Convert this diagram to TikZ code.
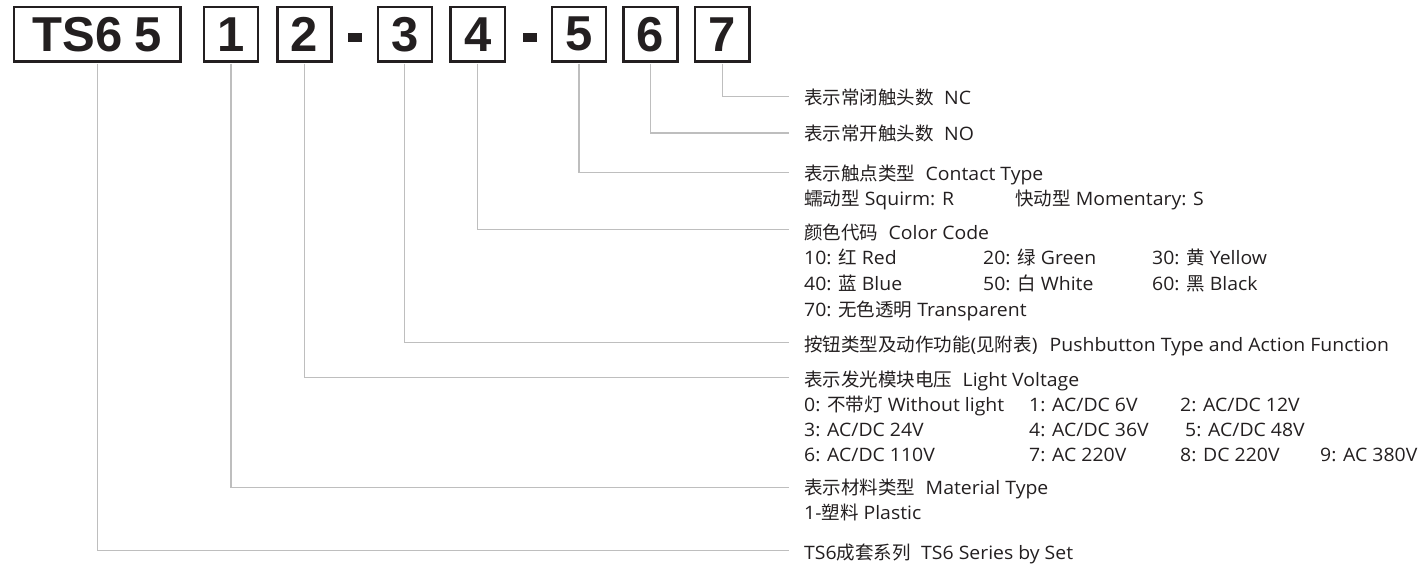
\documentclass[tikz,border=0pt]{standalone}
\usepackage{fontspec}
\setmainfont{Open Sans}[FakeStretch=1.05]
\newfontfamily\cjk{Noto Sans CJK SC}
\newfontfamily\boxfont{Liberation Sans}
\definecolor{ink}{HTML}{231F20}
\definecolor{linegray}{HTML}{BEBEBE}
\tikzset{
  codebox/.style={draw=ink, line width=2.3pt, minimum height=54.2pt, minimum width=54.2pt,
    inner sep=0pt, text=ink, font=\boxfont\bfseries\fontsize{49}{49}\selectfont},
  dashbar/.style={fill=ink, draw=none, minimum width=14pt, minimum height=8.5pt, inner sep=0pt},
  conn/.style={draw=linegray, line width=1.2pt, shorten <=1.15pt},
  desc/.style={anchor=base west, inner sep=0pt, text=ink, font=\fontsize{18.5}{22}\selectfont},
}
\newcommand{\gapH}{\hspace{10.5pt}}
\begin{document}
\begin{tikzpicture}[x=1pt,y=-1pt]
\useasboundingbox (0,0) rectangle (1421,568);
% code boxes
\node[codebox, minimum width=166.8pt] (b0) at (97.2,34.25) {TS6\kern0.25em5\hspace{16pt}};
\node[codebox] (b1) at (231,34.25) {1};
\node[codebox] (b2) at (304.5,34.25) {2};
\node[dashbar] (d1) at (355,37.5) {};
\node[codebox] (b3) at (404.8,34.25) {3};
\node[codebox] (b4) at (477.7,34.25) {4};
\node[dashbar] (d2) at (529.5,37.5) {};
\node[codebox] (b5) at (579,34.25) {5};
\node[codebox] (b6) at (650.5,34.25) {6};
\node[codebox] (b7) at (722.3,34.25) {7};
% descriptions
\node[desc] (t7) at (804,104.5) {{\cjk 表示常闭触头数}\gapH NC};
\node[desc] (t6) at (804,140.5) {{\cjk 表示常开触头数}\gapH NO};
\node[desc] (t5) at (804,180.3) {{\cjk 表示触点类型}\gapH Contact Type};
\node[desc] (t5a) at (804,205.6) {{\cjk 蠕动型} Squirm: R};
\node[desc] (t5b) at (1015,205.6) {{\cjk 快动型} Momentary: S};
\node[desc] (t4) at (804,239) {{\cjk 颜色代码}\gapH Color Code};
\node[desc] (t4a) at (804,264.5) {10: {\cjk 红} Red};
\node[desc] (t4b) at (983,264.5) {20: {\cjk 绿} Green};
\node[desc] (t4c) at (1152,264.5) {30: {\cjk 黄} Yellow};
\node[desc] (t4d) at (804,290.3) {40: {\cjk 蓝} Blue};
\node[desc] (t4e) at (983,290.3) {50: {\cjk 白} White};
\node[desc] (t4f) at (1152,290.3) {60: {\cjk 黑} Black};
\node[desc] (t4g) at (804,316) {70: {\cjk 无色透明} Transparent};
\node[desc] (t3) at (804,351) {{\cjk 按钮类型及动作功能}({\cjk 见附表})\hspace{12pt}Pushbutton Type and Action Function};
\node[desc] (t2) at (804,386.5) {{\cjk 表示发光模块电压}\gapH Light Voltage};
\node[desc] (t2a) at (804,411.5) {0: {\cjk 不带灯} Without light};
\node[desc] (t2b) at (1029,411.5) {1: AC/DC 6V};
\node[desc] (t2c) at (1180,411.5) {2: AC/DC 12V};
\node[desc] (t2d) at (804,436.5) {3: AC/DC 24V};
\node[desc] (t2e) at (1029,436.5) {4: AC/DC 36V};
\node[desc] (t2f) at (1185,436.5) {5: AC/DC 48V};
\node[desc] (t2g) at (804,461.5) {6: AC/DC 110V};
\node[desc] (t2h) at (1029,461.5) {7: AC 220V};
\node[desc] (t2i) at (1180,461.5) {8: DC 220V};
\node[desc] (t2j) at (1320,461.5) {9: AC 380V};
\node[desc] (t1) at (804,494.5) {{\cjk 表示材料类型}\gapH Material Type};
\node[desc] (t1a) at (804,519.7) {1-{\cjk 塑料} Plastic};
\node[desc] (t0) at (804,559) {TS6{\cjk 成套系列}\gapH TS6 Series by Set};
% connector ends
\coordinate (e7) at (789,96.7);
\coordinate (e6) at (789,133);
\coordinate (e5) at (789,172.7);
\coordinate (e4) at (789,229.3);
\coordinate (e3) at (789,342.7);
\coordinate (e2) at (789,377.3);
\coordinate (e1) at (789,487.7);
\coordinate (e0) at (789,550.3);
\draw[conn] (b7.south) |- (e7);
\draw[conn] (b6.south) |- (e6);
\draw[conn] (b5.south) |- (e5);
\draw[conn] (b4.south) |- (e4);
\draw[conn] (b3.south) |- (e3);
\draw[conn] (b2.south) |- (e2);
\draw[conn] (b1.south) |- (e1);
\draw[conn] (b0.south) |- (e0);
\end{tikzpicture}
\end{document}
